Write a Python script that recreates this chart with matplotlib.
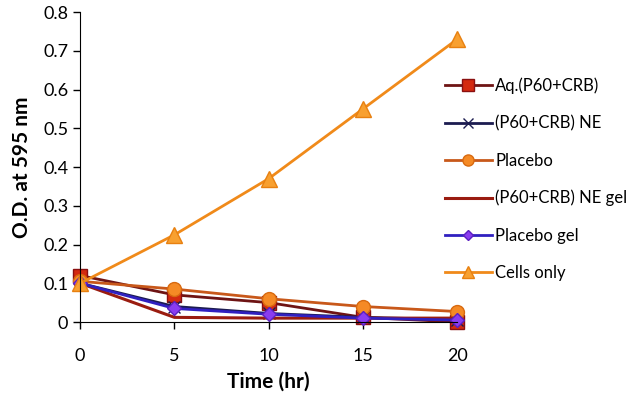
import matplotlib
matplotlib.use("Agg")
from matplotlib import pyplot as plt

plt.rcParams['font.family'] = ['Lato', 'DejaVu Sans']

time = [0, 5, 10, 15, 20]  # hr
aq = [0.12, 0.07, 0.05, 0.012, 0.0]
ne = [0.10, 0.04, 0.022, 0.012, 0.006]
placebo = [0.105, 0.085, 0.06, 0.04, 0.027]
ne_gel = [0.10, 0.012, 0.01, 0.01, 0.01]
placebo_gel = [0.10, 0.035, 0.02, 0.01, 0.005]
cells = [0.10, 0.225, 0.37, 0.55, 0.73]

fig = plt.figure(figsize=(6.36, 4.01), dpi=100)
ax = fig.add_axes([0.126, 0.197, 0.593, 0.773])

ax.plot(time, aq, color='#6e1414', lw=2, marker='s', ms=10,
        mfc='#d42a10', mec='#8a1010', label='Aq.(P60+CRB)')
ax.plot(time, ne, color='#1c1c50', lw=2, marker='x', ms=9,
        mec='#1c1c50', label='(P60+CRB) NE')
ax.plot(time, placebo, color='#c8581a', lw=2, marker='o', ms=10,
        mfc='#f58a25', mec='#d86a10', label='Placebo')
ax.plot(time, ne_gel, color='#9a1c10', lw=2.2, label='(P60+CRB) NE gel')
ax.plot(time, placebo_gel, color='#3020c0', lw=2, marker='D', ms=7,
        mfc='#8a3cf0', mec='#5a20c0', label='Placebo gel')
ax.plot(time, cells, color='#f08a1a', lw=2, marker='^', ms=11,
        mfc='#f8a030', mec='#e88010', label='Cells only')

ax.set_xlim(0, 20)
ax.set_ylim(0, 0.8)
ax.set_xticks([0, 5, 10, 15, 20])
ax.set_yticks([0, 0.1, 0.2, 0.3, 0.4, 0.5, 0.6, 0.7, 0.8])
ax.set_yticklabels(['0', '0.1', '0.2', '0.3', '0.4', '0.5', '0.6', '0.7', '0.8'])
ax.spines['top'].set_visible(False)
ax.spines['right'].set_visible(False)
ax.tick_params(labelsize=13, length=5, width=1)
ax.tick_params(axis='x', pad=14)
ax.set_xlabel('Time (hr)', fontsize=15, fontweight='bold', labelpad=5)
ax.set_ylabel('O.D. at 595 nm', fontsize=15, fontweight='bold', labelpad=8)
for m in ax.lines:
    m.set_clip_on(False)

ax.legend(loc='upper left', bbox_to_anchor=(0.95, 0.81), frameon=False,
          fontsize=12, labelspacing=1.27, handlelength=2.8, handletextpad=0.2,
          borderaxespad=0, markerscale=0.8)

fig.savefig('out.png', dpi=100)
